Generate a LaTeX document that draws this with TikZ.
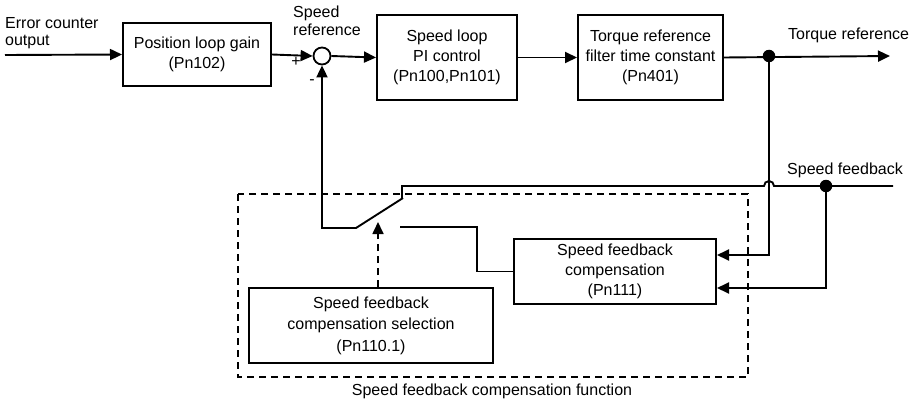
\documentclass[tikz,border=0pt]{standalone}
\usepackage{fontspec}
\setmainfont{Liberation Sans}
\usetikzlibrary{arrows.meta}
\begin{document}
\begin{tikzpicture}[x=1pt,y=-1pt,
  font=\fontsize{16}{20}\selectfont,
  ln/.style={line width=1.9pt},
  arr/.style={ln,-{Triangle[length=12pt,width=11pt]}},
  box/.style={draw,line width=2pt,align=center,inner sep=0pt},
  dot/.style={circle,fill,inner sep=0pt,minimum size=12.5pt},
  dsh/.style={line width=1.7pt,dash pattern=on 7pt off 5pt},
  lbl/.style={inner sep=0pt,align=left}]
\path[use as bounding box] (0,0) rectangle (909,401);
% dashed frame
\draw[dsh] (238,194) rectangle (748,377);
\node[inner sep=0pt,anchor=base] (fn) at (492,395) {Speed feedback compensation function};
% boxes
\node[box,minimum width=148pt,minimum height=63pt] (plg) at (197,54.5) {Position loop gain\\(Pn102)};
\node[box,minimum width=140pt,minimum height=85pt] (spi) at (447,57.5) {Speed loop\\PI control\\(Pn100,Pn101)};
\node[box,minimum width=145pt,minimum height=85pt] (trf) at (650.5,57.5) {Torque reference\\filter time constant\\(Pn401)};
\node[box,minimum width=202pt,minimum height=65pt] (sfc) at (615,271.5) {Speed feedback\\compensation\\(Pn111)};
\node[box,minimum width=244pt,minimum height=75pt,font=\fontsize{16}{21.5}\selectfont] (sel) at (371,325.5) {Speed feedback\\compensation selection\\(Pn110.1)};
\node[draw,circle,line width=1.8pt,minimum size=17pt,inner sep=0pt] (sum) at (322,56) {};
% labels
\node[lbl,anchor=base west] (ecl) at (5,29) {Error counter};
\node[lbl,anchor=base west] (eco) at (5,46) {output};
\node[lbl,anchor=base west] (srl) at (293,18) {Speed};
\node[lbl,anchor=base west] (sr2) at (293,36) {reference};
\node[lbl,anchor=base west] (tql) at (788,40) {Torque reference};
\node[lbl,anchor=base west] (sfl) at (787,174) {Speed feedback};
\node[lbl] (plus) at (296,62) {+};
\node[lbl] (minus) at (312,82) {-};
% coordinates
\coordinate (in) at (5,55);
\coordinate (out) at (890,56);
\node[dot] (d1) at (769,56) {};
\node[dot] (d2) at (826,186) {};
\coordinate (fbR) at (893,186);
\coordinate (bridgeR) at (774,186);
\coordinate (contU) at (402,186);
\coordinate (contUb) at (402,198);
\coordinate (blade) at (403,198);
\coordinate (pivot) at (356,228);
\coordinate (corner) at (322,228);
\coordinate (contL) at (400,227);
\coordinate (sw) at (378,222);
% main path
\draw[arr] (in) -- (plg.west);
\draw[arr] (plg.east) -- (sum.west);
\draw[arr] (sum.east) -- (spi.west);
\draw[arr] (spi.east) -- (trf.west);
\draw[arr] (trf.east) -- (out);
% torque ref feedback to comp
\draw[arr] (d1.center) -- (d1.center |- 0,255) -- (sfc.east |- 0,255);
% speed feedback line with bridge
\draw[ln] (fbR) -- (bridgeR) arc[start angle=0,end angle=180,radius=5pt] -- (contU) -- (contUb);
\draw[arr] (d2.center) -- (d2.center |- 0,288) -- (sfc.east |- 0,288);
% switch
\draw[arr] (blade) -- (pivot) -- (corner) -- (sum.south);
\draw[ln] (contL) -- (477,227) -- (477,271.5) -- (sfc.west);
% dashed select arrow
\draw[dsh,-{Triangle[length=12pt,width=11pt]}] (sel.north -| sw) -- (sw);
\end{tikzpicture}
\end{document}
